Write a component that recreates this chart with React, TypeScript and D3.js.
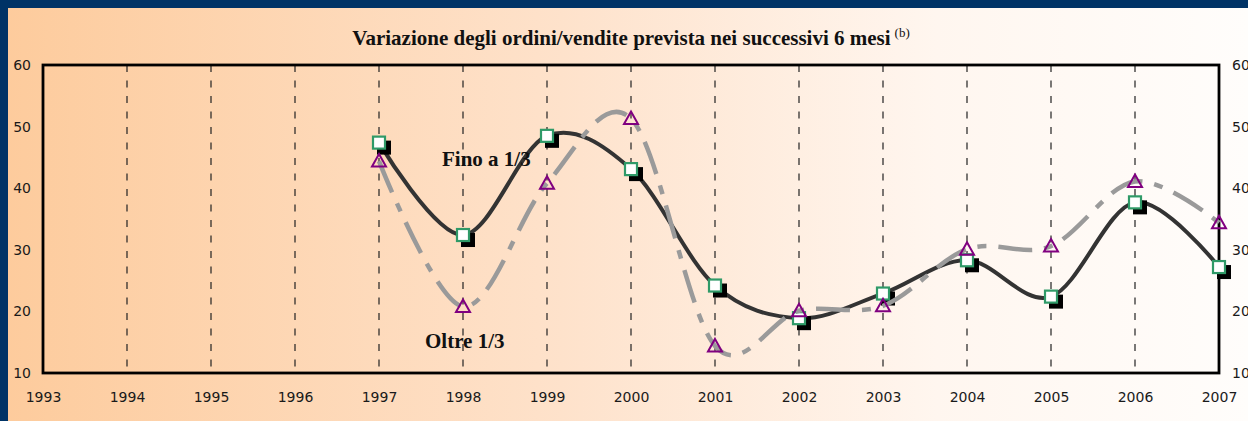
import React, { useEffect, useRef } from 'react';
import * as d3 from 'd3';

// Data
const years = [1997, 1998, 1999, 2000, 2001, 2002, 2003, 2004, 2005, 2006, 2007];
const finoA13 = [47.4, 32.4, 48.5, 43.1, 24.2, 18.9, 22.9, 28.3, 22.4, 37.7, 27.2];
const oltre13 = [44.4, 20.8, 40.8, 51.3, 14.4, 20.1, 20.9, 30.1, 30.6, 41.1, 34.4];
const xTicks = d3.range(1993, 2008);
const yTicks = [10, 20, 30, 40, 50, 60];
const gridYears = d3.range(1994, 2007);

const W = 1248, H = 421;
const margin = { top: 65, right: 29, bottom: 48, left: 43 };

export default function App() {
  const ref = useRef<SVGSVGElement | null>(null);

  useEffect(() => {
    if (!ref.current) return;
    const svg = d3.select(ref.current);
    svg.selectAll('*').remove();

    const x = d3.scaleLinear().domain([1993, 2007]).range([margin.left, W - margin.right]);
    const y = d3.scaleLinear().domain([10, 60]).range([H - margin.bottom, margin.top]);

    // background
    const defs = svg.append('defs');
    const grad = defs.append('linearGradient').attr('id', 'bg').attr('x1', '0%').attr('x2', '100%');
    grad.append('stop').attr('offset', '0%').attr('stop-color', '#fdcb9c');
    grad.append('stop').attr('offset', '45%').attr('stop-color', '#fee2cb');
    grad.append('stop').attr('offset', '75%').attr('stop-color', '#fff6ef');
    grad.append('stop').attr('offset', '100%').attr('stop-color', '#fffdfb');

    svg.append('rect').attr('width', W).attr('height', H).attr('fill', 'url(#bg)');
    svg.append('rect').attr('width', W).attr('height', 8).attr('fill', '#003366');
    svg.append('rect').attr('width', 8).attr('height', H).attr('fill', '#003366');

    // title
    const title = svg.append('text')
      .attr('x', (x(1993) + x(2007)) / 2)
      .attr('y', 45)
      .attr('text-anchor', 'middle')
      .attr('font-family', '"Liberation Serif", "Times New Roman", serif')
      .attr('font-weight', 'bold')
      .attr('font-size', 21)
      .attr('fill', '#111');
    title.append('tspan').text('Variazione degli ordini/vendite prevista nei successivi 6 mesi');
    title.append('tspan').attr('dx', 4).attr('dy', -8).attr('font-size', 13).attr('font-weight', 'normal').text('(b)');

    // dashed vertical grid
    svg.append('g')
      .selectAll('line')
      .data(gridYears)
      .join('line')
        .attr('x1', d => x(d)).attr('x2', d => x(d))
        .attr('y1', y(60)).attr('y2', y(10))
        .attr('stroke', '#222')
        .attr('stroke-width', 1.2)
        .attr('stroke-dasharray', '7,8.5');

    // axes
    const tickFont = (g: d3.Selection<SVGGElement, unknown, null, undefined>) => {
      g.select('.domain').remove();
      g.selectAll('text')
        .attr('font-family', '"DejaVu Sans", Verdana, sans-serif')
        .attr('font-size', 14)
        .attr('fill', '#1a1a1a');
    };

    svg.append('g')
      .attr('transform', `translate(${x(1993)},0)`)
      .call(d3.axisLeft(y).tickValues(yTicks).tickSize(0).tickPadding(12).tickFormat(d3.format('d')))
      .call(tickFont);

    svg.append('g')
      .attr('transform', `translate(${x(2007)},0)`)
      .call(d3.axisRight(y).tickValues(yTicks).tickSize(0).tickPadding(13).tickFormat(d3.format('d')))
      .call(tickFont);

    svg.append('g')
      .attr('transform', `translate(0,${y(10)})`)
      .call(d3.axisBottom(x).tickValues(xTicks).tickSize(0).tickPadding(19).tickFormat(d3.format('d')))
      .call(tickFont);

    // plot frame
    svg.append('rect')
      .attr('x', x(1993)).attr('y', y(60))
      .attr('width', x(2007) - x(1993)).attr('height', y(10) - y(60))
      .attr('fill', 'none')
      .attr('stroke', '#000')
      .attr('stroke-width', 2.8);

    const line = d3.line<number>()
      .x((_, i) => x(years[i]))
      .y(d => y(d))
      .curve(d3.curveCatmullRom.alpha(0));

    // Fino a 1/3
    svg.append('path')
      .datum(finoA13)
      .attr('fill', 'none')
      .attr('stroke', '#333')
      .attr('stroke-width', 4)
      .attr('d', line);

    const sq = svg.append('g');
    sq.selectAll('rect.shadow')
      .data(finoA13)
      .join('rect')
        .attr('class', 'shadow')
        .attr('x', (_, i) => x(years[i]) - 7 + 5)
        .attr('y', d => y(d) - 7 + 5)
        .attr('width', 14).attr('height', 14)
        .attr('fill', '#000');
    sq.selectAll('rect.mark')
      .data(finoA13)
      .join('rect')
        .attr('class', 'mark')
        .attr('x', (_, i) => x(years[i]) - 6)
        .attr('y', d => y(d) - 6)
        .attr('width', 12).attr('height', 12)
        .attr('fill', '#fff')
        .attr('stroke', '#2f9a68')
        .attr('stroke-width', 2.2);

    // Oltre 1/3
    svg.append('path')
      .datum(oltre13)
      .attr('fill', 'none')
      .attr('stroke', '#9a9a9a')
      .attr('stroke-width', 4.5)
      .attr('stroke-dasharray', '34,12,9,12')
      .attr('d', line);

    svg.append('g')
      .selectAll('path')
      .data(oltre13)
      .join('path')
        .attr('transform', (d, i) => `translate(${x(years[i])},${y(d)})`)
        .attr('d', 'M0,-7L7,5.5L-7,5.5Z')
        .attr('fill', 'none')
        .attr('stroke', '#800080')
        .attr('stroke-width', 2);

    // series labels
    const label = (tx: number, ty: number, t: string) =>
      svg.append('text')
        .attr('x', tx).attr('y', ty)
        .attr('font-family', '"Liberation Serif", "Times New Roman", serif')
        .attr('font-weight', 'bold')
        .attr('font-size', 21)
        .attr('fill', '#111')
        .text(t);
    label(442, 166, 'Fino a 1/3');
    label(425, 348, 'Oltre 1/3');
  }, []);

  return (
    <div style={{ position: 'fixed', left: 0, top: 0 }}>
      <svg ref={ref} width={W} height={H} viewBox={`0 0 ${W} ${H}`} style={{ display: 'block' }}></svg>
    </div>
  );
}
